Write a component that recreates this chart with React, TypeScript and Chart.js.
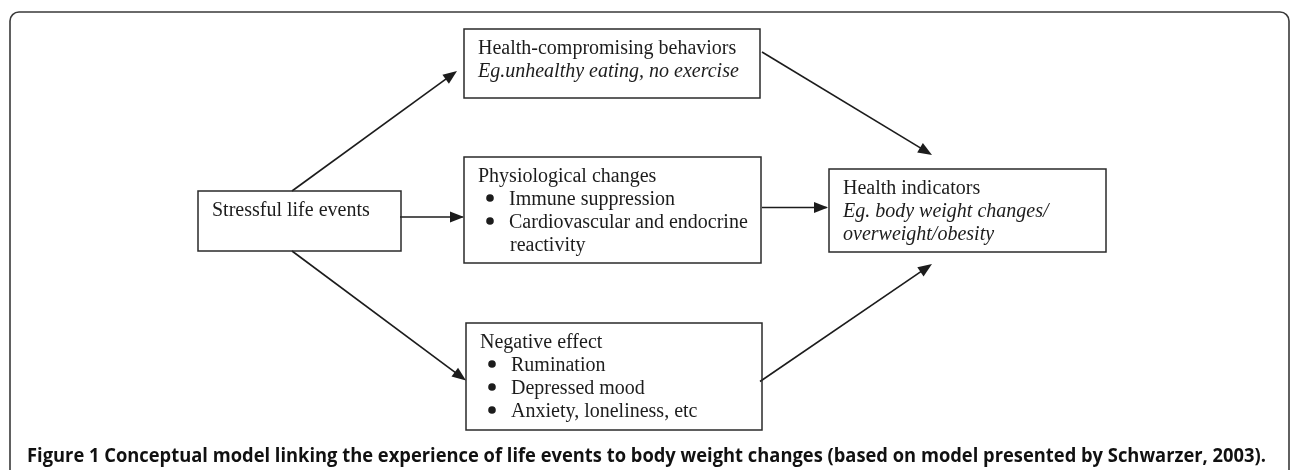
import React, { useEffect, useRef } from "react";
import { Chart, registerables } from "chart.js";

Chart.register(...registerables);

// ---- data (diagram units: x 0..1290, y 0..470 top-down) ----
const nodeNames = ["stress", "behavior", "physio", "negative", "health"];
const nodeBoxes: number[][] = [
  [198, 191, 401, 251],
  [464, 29, 760, 98],
  [464, 157, 761, 263],
  [466, 323, 762, 430],
  [829, 169, 1106, 252],
];
// "*" prefix = bullet item, "~" prefix = italic, ">" prefix = bullet continuation
const nodeLines: string[][] = [
  ["Stressful life events"],
  ["Health-compromising behaviors", "~Eg.unhealthy eating, no exercise"],
  ["Physiological changes", "*Immune suppression", "*Cardiovascular and endocrine", ">reactivity"],
  ["Negative effect", "*Rumination", "*Depressed mood", "*Anxiety, loneliness, etc"],
  ["Health indicators", "~Eg. body weight changes/", "~overweight/obesity"],
];
const arrowFrom: number[][] = [
  [292, 191],
  [400, 217],
  [292, 251],
  [762, 52],
  [762, 207.5],
  [760, 381.5],
];
const arrowTo: number[][] = [
  [457, 71],
  [464, 217],
  [466, 380.5],
  [932, 155],
  [828, 207.5],
  [932, 264],
];
const captionBold = "Figure 1";
const captionText =
  " Conceptual model linking the experience of life events to body weight changes (based on model presented by Schwarzer, 2003).";

const W = 1290;
const H = 470;
const INK = "#1c1c1c";

const diagramPlugin = {
  id: "diagram",
  beforeDraw(chart: any) {
    const ctx = chart.ctx;
    ctx.save();
    ctx.fillStyle = "#ffffff";
    ctx.fillRect(0, 0, chart.width, chart.height);
    ctx.restore();
  },
  afterDatasetsDraw(chart: any) {
    const ctx: CanvasRenderingContext2D = chart.ctx;
    const xs = chart.scales.x;
    const ys = chart.scales.y;
    const px = (v: number) => xs.getPixelForValue(v);
    const py = (v: number) => ys.getPixelForValue(v);
    ctx.save();

    // outer rounded frame (open at bottom)
    const fx0 = px(10), fy0 = py(12), fx1 = px(1289), fyb = py(480), r = 9;
    ctx.strokeStyle = "#3a3a3a";
    ctx.lineWidth = 1.6;
    ctx.beginPath();
    ctx.moveTo(fx0, fyb);
    ctx.lineTo(fx0, fy0 + r);
    ctx.arcTo(fx0, fy0, fx0 + r, fy0, r);
    ctx.lineTo(fx1 - r, fy0);
    ctx.arcTo(fx1, fy0, fx1, fy0 + r, r);
    ctx.lineTo(fx1, fyb);
    ctx.stroke();

    // boxes
    ctx.strokeStyle = "#2a2a2a";
    ctx.lineWidth = 1.5;
    nodeBoxes.forEach((b) => {
      ctx.strokeRect(px(b[0]), py(b[1]), px(b[2]) - px(b[0]), py(b[3]) - py(b[1]));
    });

    // box text
    ctx.fillStyle = INK;
    ctx.textBaseline = "alphabetic";
    ctx.textAlign = "left";
    nodeBoxes.forEach((b, i) => {
      const lines = nodeLines[i];
      lines.forEach((raw, j) => {
        const base = py(b[1] + 25 + j * 23);
        let t = raw;
        let italic = false;
        let x = px(b[0] + 14);
        if (t.startsWith("~")) {
          italic = true;
          t = t.slice(1);
        } else if (t.startsWith("*")) {
          t = t.slice(1);
          ctx.beginPath();
          ctx.arc(px(b[0] + 26), base - 7, 3.8, 0, Math.PI * 2);
          ctx.fill();
          x = px(b[0] + 45);
        } else if (t.startsWith(">")) {
          t = t.slice(1);
          x = px(b[0] + 46);
        }
        ctx.font = (italic ? "italic " : "") + '20px "Liberation Serif", "Times New Roman", serif';
        ctx.fillText(t, x, base);
      });
    });

    // arrowheads
    arrowFrom.forEach((f, i) => {
      const t = arrowTo[i];
      const x1 = px(t[0]), y1 = py(t[1]);
      const ang = Math.atan2(y1 - py(f[1]), x1 - px(f[0]));
      const len = 14, half = 5.5;
      ctx.beginPath();
      ctx.moveTo(x1, y1);
      ctx.lineTo(x1 - len * Math.cos(ang) + half * Math.sin(ang), y1 - len * Math.sin(ang) - half * Math.cos(ang));
      ctx.lineTo(x1 - len * Math.cos(ang) - half * Math.sin(ang), y1 - len * Math.sin(ang) + half * Math.cos(ang));
      ctx.closePath();
      ctx.fillStyle = INK;
      ctx.fill();
    });

    // caption
    const cx = px(27), cy = py(462);
    ctx.fillStyle = "#111";
    ctx.font = 'bold 19px "Open Sans", "Liberation Sans", sans-serif';
    const wb = ctx.measureText(captionBold).width;
    const wt = ctx.measureText(captionText).width;
    const target = px(1266) - cx;
    const k = target / (wb + wt);
    ctx.translate(cx, cy);
    ctx.scale(k, 1);
    ctx.fillText(captionBold, 0, 0);
    ctx.fillText(captionText, wb, 0);
    ctx.restore();
  },
};

export default function App() {
  const ref = useRef<HTMLCanvasElement | null>(null);
  useEffect(() => {
    if (!ref.current) return;
    const datasets = arrowFrom.map((f, i) => ({
      label: "arrow" + i,
      data: [
        { x: f[0], y: f[1] },
        { x: arrowTo[i][0] - (arrowTo[i][0] - f[0]) * 0.02, y: arrowTo[i][1] - (arrowTo[i][1] - f[1]) * 0.02 },
      ],
      showLine: true,
      borderColor: INK,
      borderWidth: 1.6,
      pointRadius: 0,
      fill: false,
      tension: 0,
    }));
    const chart = new Chart(ref.current, {
      type: "scatter",
      data: { datasets },
      options: {
        animation: false,
        responsive: false,
        devicePixelRatio: 1,
        layout: { padding: 0 },
        plugins: { legend: { display: false }, tooltip: { enabled: false }, title: { display: false } },
        scales: {
          x: { type: "linear", min: 0, max: W, display: false },
          y: { type: "linear", min: 0, max: H, reverse: true, display: false },
        },
      },
      plugins: [diagramPlugin],
    });
    return () => chart.destroy();
  }, []);
  return (
    <div style={{ position: "absolute", left: 0, top: 0, width: W, height: H, background: "#fff" }}>
      <canvas ref={ref} width={W} height={H} style={{ display: "block", width: W, height: H }} />
    </div>
  );
}
